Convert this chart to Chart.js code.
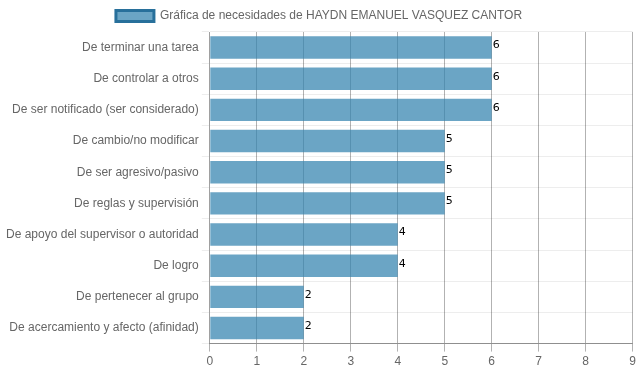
<!DOCTYPE html>
<html>
<head>
<meta charset="utf-8">
<script src="https://cdn.jsdelivr.net/npm/chart.js@4/dist/chart.umd.min.js"></script>
<style>
  body { margin: 0; background: #fff; }
  #wrap { width: 639px; height: 372px; }
</style>
</head>
<body>
<div id="wrap"><canvas id="necesidades"></canvas></div>
<script>
const categories = [
  "De terminar una tarea",
  "De controlar a otros",
  "De ser notificado (ser considerado)",
  "De cambio/no modificar",
  "De ser agresivo/pasivo",
  "De reglas y supervisión",
  "De apoyo del supervisor o autoridad",
  "De logro",
  "De pertenecer al grupo",
  "De acercamiento y afecto (afinidad)"
];
const values = [6, 6, 6, 5, 5, 5, 4, 4, 2, 2];
const seriesName = "Gráfica de necesidades de HAYDN EMANUEL VASQUEZ CANTOR";

Chart.defaults.font.family = "'Liberation Sans', Arial, sans-serif";
Chart.defaults.font.size = 12;
Chart.defaults.color = "#666";

// numbers at the end of each bar
const valueLabels = {
  id: "valueLabels",
  afterDatasetsDraw(chart) {
    const ctx = chart.ctx;
    const meta = chart.getDatasetMeta(0);
    ctx.save();
    ctx.font = "11px 'DejaVu Sans', sans-serif";
    ctx.fillStyle = "#000";
    ctx.textAlign = "left";
    ctx.textBaseline = "middle";
    meta.data.forEach((bar, i) => {
      ctx.fillText(values[i], bar.x + 1, bar.y - 2);
    });
    ctx.restore();
  }
};

new Chart(document.getElementById("necesidades"), {
  type: "bar",
  data: {
    labels: categories,
    datasets: [
      {
        label: seriesName,
        data: values,
        backgroundColor: "rgba(50, 130, 175, 0.72)",
        borderColor: "rgba(40, 112, 155, 1)",
        borderWidth: 0,
        barPercentage: 0.9,
        categoryPercentage: 0.8
      }
    ]
  },
  options: {
    indexAxis: "y",
    responsive: true,
    maintainAspectRatio: false,
    animation: false,
    layout: { padding: { top: 0, right: 4, bottom: 0, left: 3 } },
    plugins: {
      legend: {
        labels: {
          boxWidth: 38,
          boxHeight: 11,
          generateLabels(chart) {
            const items = Chart.defaults.plugins.legend.labels.generateLabels(chart);
            items.forEach((it) => {
              it.lineWidth = 3;
              it.strokeStyle = "rgba(40, 112, 155, 1)";
            });
            return items;
          }
        }
      },
      tooltip: { enabled: false }
    },
    scales: {
      x: {
        min: 0,
        max: 9,
        ticks: { stepSize: 1 },
        grid: { color: "rgba(0,0,0,0.3)" },
        border: { color: "rgba(0,0,0,0.4)" }
      },
      y: {
        grid: { color: "rgba(0,0,0,0.07)" },
        border: { color: "rgba(0,0,0,0.1)" }
      }
    }
  },
  plugins: [valueLabels]
});
</script>
</body>
</html>
